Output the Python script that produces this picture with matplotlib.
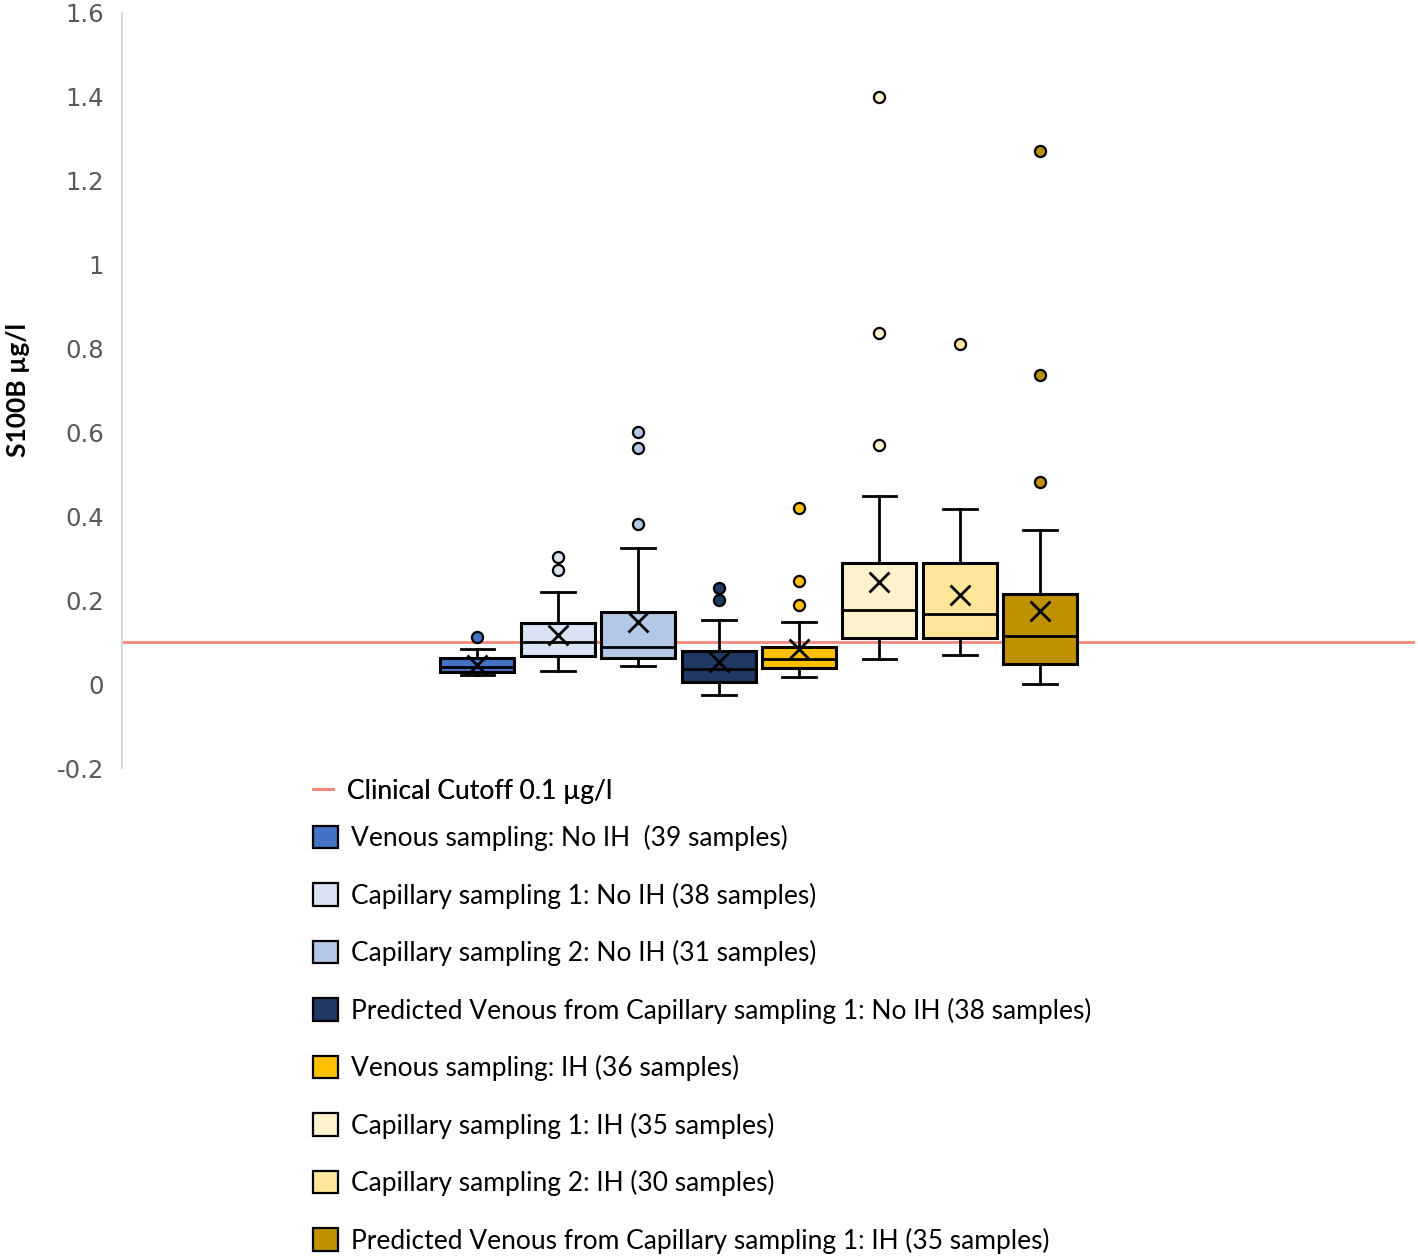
"""S100B box plot: venous vs capillary sampling, with and without IH."""

import matplotlib
matplotlib.use("Agg")
import matplotlib.pyplot as plt
from matplotlib.lines import Line2D
from matplotlib.patches import Patch

LABELS = [
    "Venous sampling: No IH  (39 samples)",
    "Capillary sampling 1: No IH (38 samples)",
    "Capillary sampling 2: No IH (31 samples)",
    "Predicted Venous from Capillary sampling 1: No IH (38 samples)",
    "Venous sampling: IH (36 samples)",
    "Capillary sampling 1: IH (35 samples)",
    "Capillary sampling 2: IH (30 samples)",
    "Predicted Venous from Capillary sampling 1: IH (35 samples)",
]
COLORS = ["#4472C4", "#DAE3F3", "#B4C7E7", "#203864",
          "#FFC000", "#FFF2CC", "#FFE699", "#BF9000"]

Q1 = [0.029, 0.067, 0.062, 0.005, 0.039, 0.110, 0.109, 0.048]
MEDIAN = [0.040, 0.100, 0.088, 0.036, 0.059, 0.177, 0.167, 0.115]
Q3 = [0.062, 0.145, 0.171, 0.079, 0.088, 0.288, 0.288, 0.215]
WHISLO = [0.021, 0.031, 0.043, -0.026, 0.017, 0.059, 0.069, 0.000]
WHISHI = [0.083, 0.220, 0.324, 0.152, 0.148, 0.448, 0.418, 0.368]
MEAN = [0.045, 0.117, 0.148, 0.052, 0.084, 0.243, 0.212, 0.175]
FLIERS = [
    [0.112],
    [0.302, 0.271],
    [0.600, 0.562, 0.381],
    [0.229, 0.200],
    [0.420, 0.247, 0.189],
    [1.400, 0.838, 0.569],
    [0.810],
    [1.270, 0.736, 0.481],
]
CUTOFF = 0.1
YTICKS = [-0.2, 0, 0.2, 0.4, 0.6, 0.8, 1, 1.2, 1.4, 1.6]

TEXT_FONT = ["Lato", "DejaVu Sans"]

fig = plt.figure(figsize=(14.18, 12.57), dpi=100)
W, H = 1418, 1257
ax = fig.add_axes([122 / W, 1 - 768 / H, (1415 - 122) / W, (768 - 13) / H])

stats = []
for i in range(len(LABELS)):
    stats.append({
        "med": MEDIAN[i], "q1": Q1[i], "q3": Q3[i],
        "whislo": WHISLO[i], "whishi": WHISHI[i],
        "mean": MEAN[i], "fliers": FLIERS[i],
    })

positions = list(range(1, len(LABELS) + 1))
res = ax.bxp(
    stats, positions=positions, widths=0.92, patch_artist=True,
    showmeans=True, showfliers=True,
    boxprops=dict(edgecolor="black", linewidth=2.2),
    medianprops=dict(color="black", linewidth=2),
    whiskerprops=dict(color="black", linewidth=2),
    capprops=dict(color="black", linewidth=2),
    meanprops=dict(marker="x", markeredgecolor="black", markersize=15,
                   markeredgewidth=2),
    capwidths=0.42,
)
for box, c in zip(res["boxes"], COLORS):
    box.set_facecolor(c)
for fl, c in zip(res["fliers"], COLORS):
    fl.set(marker="o", markerfacecolor=c, markeredgecolor="black",
           markersize=8, markeredgewidth=1.6)

ax.axhline(CUTOFF, color="#F4877A", linewidth=2, zorder=0.5)

ax.set_xlim(-3.42, 12.66)
ax.set_ylim(-0.2, 1.6)
ax.set_yticks(YTICKS)
ax.set_yticklabels([f"{t:g}" for t in YTICKS])
ax.tick_params(axis="y", length=0, pad=13, labelsize=17.5, labelcolor="#595959")
ax.set_xticks([])
for s in ["top", "right", "bottom"]:
    ax.spines[s].set_visible(False)
ax.spines["left"].set_color("#D9D9D9")
ax.spines["left"].set_linewidth(1.5)

fig.text(18 / W, 1 - 390 / H, "S100B µg/l", rotation=90, ha="center",
         va="center", fontsize=19, fontweight="bold", family=TEXT_FONT)

line_leg = fig.legend(
    handles=[Line2D([0], [0], color="#F4877A", linewidth=2)],
    labels=["Clinical Cutoff 0.1 µg/l"],
    loc="center left", bbox_to_anchor=(313 / W, 1 - 791 / H),
    frameon=False, handlelength=0.75, handletextpad=0.55,
    borderaxespad=0, borderpad=0,
    prop=dict(family=TEXT_FONT, size=19),
)
fig.add_artist(line_leg)

box_handles = [Patch(facecolor=c, edgecolor="black", linewidth=1.6) for c in COLORS]
fig.legend(
    handles=box_handles, labels=LABELS,
    loc="upper left", bbox_to_anchor=(313 / W, 1 - 825 / H),
    frameon=False, handlelength=0.95, handleheight=0.95, handletextpad=0.5,
    labelspacing=1.19, borderaxespad=0, borderpad=0,
    prop=dict(family=TEXT_FONT, size=19),
)

fig.savefig("out.png", dpi=100)
